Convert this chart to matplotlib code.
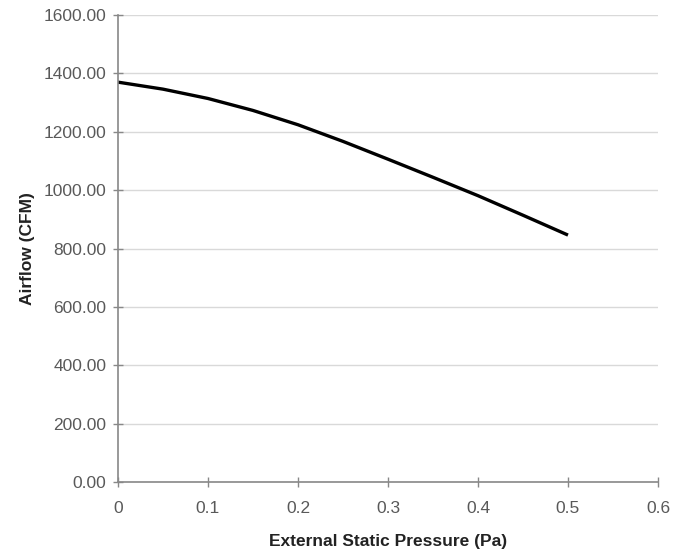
import matplotlib
matplotlib.use('Agg')
import matplotlib.pyplot as plt

# Pressão estática externa (Pa) e vazão de ar (CFM).
pressao = [0.0, 0.05, 0.1, 0.15, 0.2, 0.25, 0.3, 0.35, 0.4, 0.45, 0.5]
vazao = [1370, 1346, 1314, 1273, 1224, 1167, 1106, 1044, 981, 914, 846]

x_ticks = [0, 0.1, 0.2, 0.3, 0.4, 0.5, 0.6]
x_labels = ['0', '0.1', '0.2', '0.3', '0.4', '0.5', '0.6']
y_ticks = list(range(0, 1601, 200))

plt.rcParams['font.family'] = ['Liberation Sans', 'DejaVu Sans']

fig = plt.figure(figsize=(6.73, 5.56), dpi=100)
ax = fig.add_axes([0.1753, 0.1331, 0.8024, 0.8399])

ax.plot(pressao, vazao, color='black', linewidth=2.4, solid_capstyle='butt')

ax.set_xlim(0, 0.6)
ax.set_ylim(0, 1600)
ax.set_xticks(x_ticks)
ax.set_xticklabels(x_labels)
ax.set_yticks(y_ticks)
ax.set_yticklabels(['%.2f' % v for v in y_ticks])

ax.grid(axis='y', color='#d9d9d9', linewidth=1)
ax.set_axisbelow(True)
for lado in ['top', 'right']:
    ax.spines[lado].set_visible(False)
for lado in ['left', 'bottom']:
    ax.spines[lado].set_color('#888888')
    ax.spines[lado].set_linewidth(1.2)

ax.tick_params(axis='both', direction='inout', length=7, width=1, color='#888888',
               labelsize=12.5, labelcolor='#595959')
ax.tick_params(axis='x', pad=10)
ax.tick_params(axis='y', pad=5)

ax.set_xlabel('External Static Pressure (Pa)', fontsize=12.5, fontweight='bold',
              color='#222222', labelpad=13)
ax.set_ylabel('Airflow (CFM)', fontsize=12.5, fontweight='bold', color='#222222',
              labelpad=6)

plt.savefig('out.png', dpi=100)
